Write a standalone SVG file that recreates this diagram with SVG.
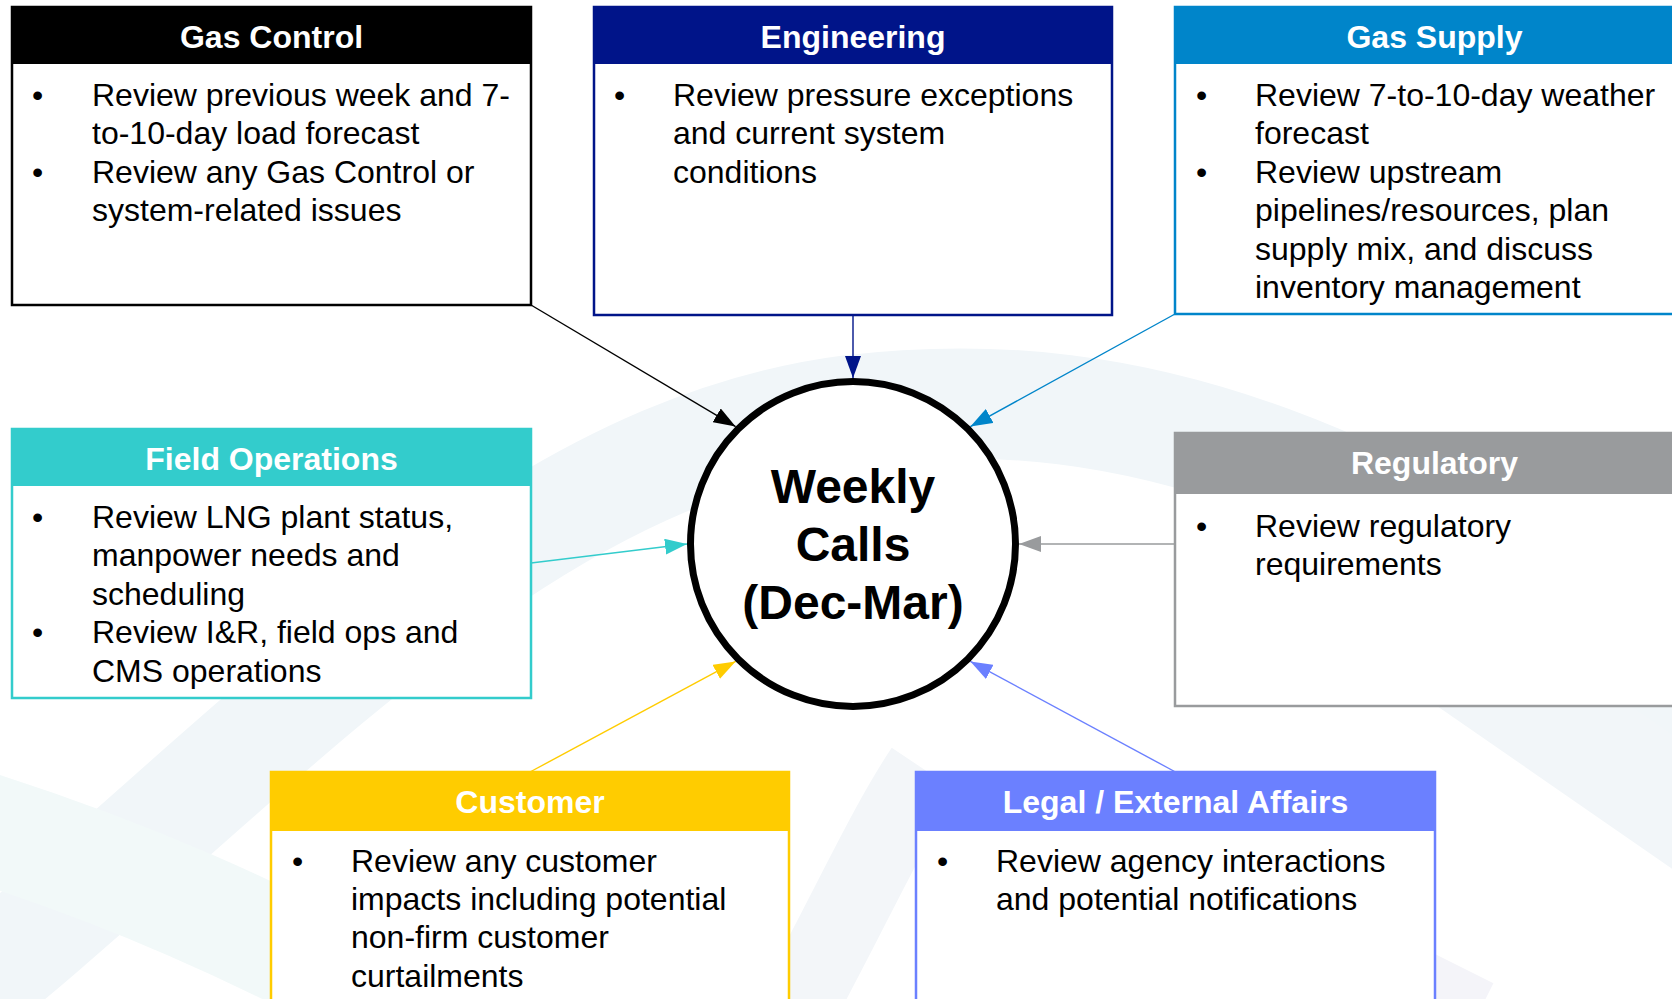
<svg xmlns="http://www.w3.org/2000/svg" width="1672" height="999" viewBox="0 0 1672 999">
<defs>
<style>
.box{fill:#fff;stroke-width:2.5}
.ttl{font-family:"Liberation Sans",Arial,sans-serif;font-weight:bold;font-size:32px;fill:#fff;text-anchor:middle}
.txt{font-family:"Liberation Sans",Arial,sans-serif;font-size:32px;fill:#000}
.ctr{font-family:"Liberation Sans",Arial,sans-serif;font-weight:bold;font-size:48px;fill:#000;text-anchor:middle}
.cn{fill:none;stroke-width:1.4}
.bg{fill:none}
</style>
<marker id="a-black" viewBox="0 0 22 16" refX="22" refY="8" markerWidth="22" markerHeight="16" markerUnits="userSpaceOnUse" orient="auto"><path d="M0,0 L22,8 L0,16 z" fill="#000"/></marker>
<marker id="a-navy" viewBox="0 0 22 16" refX="22" refY="8" markerWidth="22" markerHeight="16" markerUnits="userSpaceOnUse" orient="auto"><path d="M0,0 L22,8 L0,16 z" fill="#001489"/></marker>
<marker id="a-blue" viewBox="0 0 22 16" refX="22" refY="8" markerWidth="22" markerHeight="16" markerUnits="userSpaceOnUse" orient="auto"><path d="M0,0 L22,8 L0,16 z" fill="#0085CA"/></marker>
<marker id="a-teal" viewBox="0 0 22 16" refX="22" refY="8" markerWidth="22" markerHeight="16" markerUnits="userSpaceOnUse" orient="auto"><path d="M0,0 L22,8 L0,16 z" fill="#33CCCC"/></marker>
<marker id="a-gray" viewBox="0 0 22 16" refX="22" refY="8" markerWidth="22" markerHeight="16" markerUnits="userSpaceOnUse" orient="auto"><path d="M0,0 L22,8 L0,16 z" fill="#999B9D"/></marker>
<marker id="a-yellow" viewBox="0 0 22 16" refX="22" refY="8" markerWidth="22" markerHeight="16" markerUnits="userSpaceOnUse" orient="auto"><path d="M0,0 L22,8 L0,16 z" fill="#FFCC00"/></marker>
<marker id="a-violet" viewBox="0 0 22 16" refX="22" refY="8" markerWidth="22" markerHeight="16" markerUnits="userSpaceOnUse" orient="auto"><path d="M0,0 L22,8 L0,16 z" fill="#6B80FF"/></marker>
</defs>
<rect width="1672" height="999" fill="#fff"/>
<g id="background">
<path class="bg" d="M-80,1030 C240,780 500,455 850,410 C1150,375 1380,480 1720,710" stroke="#F1F6F9" stroke-width="110"/>
<path class="bg" d="M-40,820 C120,870 260,930 420,1020" stroke="#F2F9F9" stroke-width="110"/>
<path class="bg" d="M1460,655 L1720,835" stroke="#F2F6F9" stroke-width="110"/>
<path class="bg" d="M790,1020 C850,910 885,830 925,770" stroke="#F3F6F9" stroke-width="80"/>
<path class="bg" d="M1420,980 L1480,1010" stroke="#F4F4F9" stroke-width="60"/>
</g>
<g id="connectors">
<line class="cn" x1="531" y1="305" x2="735.6" y2="426.6" stroke="#000" marker-end="url(#a-black)"/>
<line class="cn" x1="853" y1="315" x2="853" y2="378" stroke="#001489" marker-end="url(#a-navy)"/>
<line class="cn" x1="1175" y1="314" x2="970.4" y2="426.6" stroke="#0085CA" marker-end="url(#a-blue)"/>
<line class="cn" x1="531" y1="563" x2="687" y2="544" stroke="#33CCCC" marker-end="url(#a-teal)"/>
<line class="cn" x1="1175" y1="544" x2="1019" y2="544" stroke="#999B9D" marker-end="url(#a-gray)"/>
<line class="cn" x1="530" y1="772" x2="735.6" y2="661.4" stroke="#FFCC00" marker-end="url(#a-yellow)"/>
<line class="cn" x1="1175.5" y1="772" x2="970.4" y2="661.4" stroke="#6B80FF" marker-end="url(#a-violet)"/>
</g>
<g id="weekly-calls">
<circle cx="853" cy="544" r="162.5" fill="#fff" stroke="#000" stroke-width="7"/>
<text class="ctr" x="853" y="503">Weekly</text>
<text class="ctr" x="853" y="561">Calls</text>
<text class="ctr" x="853" y="619">(Dec-Mar)</text>
</g>
<g id="gas-control">
<rect class="box" x="12" y="7" width="519" height="298" stroke="#000"/>
<rect x="12" y="7" width="519" height="57" fill="#000"/>
<text class="ttl" x="271.5" y="48">Gas Control</text>
<text class="txt" x="32" y="106">•</text>
<text class="txt" x="92" y="106">Review previous week and 7-</text>
<text class="txt" x="92" y="144.4">to-10-day load forecast</text>
<text class="txt" x="32" y="182.8">•</text>
<text class="txt" x="92" y="182.8">Review any Gas Control or</text>
<text class="txt" x="92" y="221.2">system-related issues</text>
</g>
<g id="engineering">
<rect class="box" x="594" y="7" width="518" height="308" stroke="#001489"/>
<rect x="594" y="7" width="518" height="57" fill="#001489"/>
<text class="ttl" x="853" y="48">Engineering</text>
<text class="txt" x="614" y="106">•</text>
<text class="txt" x="673" y="106">Review pressure exceptions</text>
<text class="txt" x="673" y="144.4">and current system</text>
<text class="txt" x="673" y="182.8">conditions</text>
</g>
<g id="gas-supply">
<rect class="box" x="1175" y="7" width="519" height="307" stroke="#0085CA"/>
<rect x="1175" y="7" width="519" height="57" fill="#0085CA"/>
<text class="ttl" x="1434.5" y="48">Gas Supply</text>
<text class="txt" x="1196" y="106">•</text>
<text class="txt" x="1255" y="106">Review 7-to-10-day weather</text>
<text class="txt" x="1255" y="144.4">forecast</text>
<text class="txt" x="1196" y="182.8">•</text>
<text class="txt" x="1255" y="182.8">Review upstream</text>
<text class="txt" x="1255" y="221.2">pipelines/resources, plan</text>
<text class="txt" x="1255" y="259.6">supply mix, and discuss</text>
<text class="txt" x="1255" y="298">inventory management</text>
</g>
<g id="field-operations">
<rect class="box" x="12" y="429" width="519" height="269" stroke="#33CCCC"/>
<rect x="12" y="429" width="519" height="57" fill="#33CCCC"/>
<text class="ttl" x="271.5" y="470">Field Operations</text>
<text class="txt" x="32" y="528">•</text>
<text class="txt" x="92" y="528">Review LNG plant status,</text>
<text class="txt" x="92" y="566.4">manpower needs and</text>
<text class="txt" x="92" y="604.8">scheduling</text>
<text class="txt" x="32" y="643.2">•</text>
<text class="txt" x="92" y="643.2">Review I&amp;R, field ops and</text>
<text class="txt" x="92" y="681.6">CMS operations</text>
</g>
<g id="regulatory">
<rect class="box" x="1175" y="433" width="519" height="273" stroke="#999B9D"/>
<rect x="1175" y="433" width="519" height="61" fill="#999B9D"/>
<text class="ttl" x="1434.5" y="474">Regulatory</text>
<text class="txt" x="1196" y="537">•</text>
<text class="txt" x="1255" y="537">Review regulatory</text>
<text class="txt" x="1255" y="575.4">requirements</text>
</g>
<g id="customer">
<rect class="box" x="271" y="772" width="518" height="240" stroke="#FFCC00"/>
<rect x="271" y="772" width="518" height="59" fill="#FFCC00"/>
<text class="ttl" x="530" y="813">Customer</text>
<text class="txt" x="292" y="871.5">•</text>
<text class="txt" x="351" y="871.5">Review any customer</text>
<text class="txt" x="351" y="909.9">impacts including potential</text>
<text class="txt" x="351" y="948.3">non-firm customer</text>
<text class="txt" x="351" y="986.7">curtailments</text>
</g>
<g id="legal-external-affairs">
<rect class="box" x="916" y="772" width="519" height="240" stroke="#6B80FF"/>
<rect x="916" y="772" width="519" height="59" fill="#6B80FF"/>
<text class="ttl" x="1175.5" y="813">Legal / External Affairs</text>
<text class="txt" x="937" y="871.5">•</text>
<text class="txt" x="996" y="871.5">Review agency interactions</text>
<text class="txt" x="996" y="909.9">and potential notifications</text>
</g>
</svg>
